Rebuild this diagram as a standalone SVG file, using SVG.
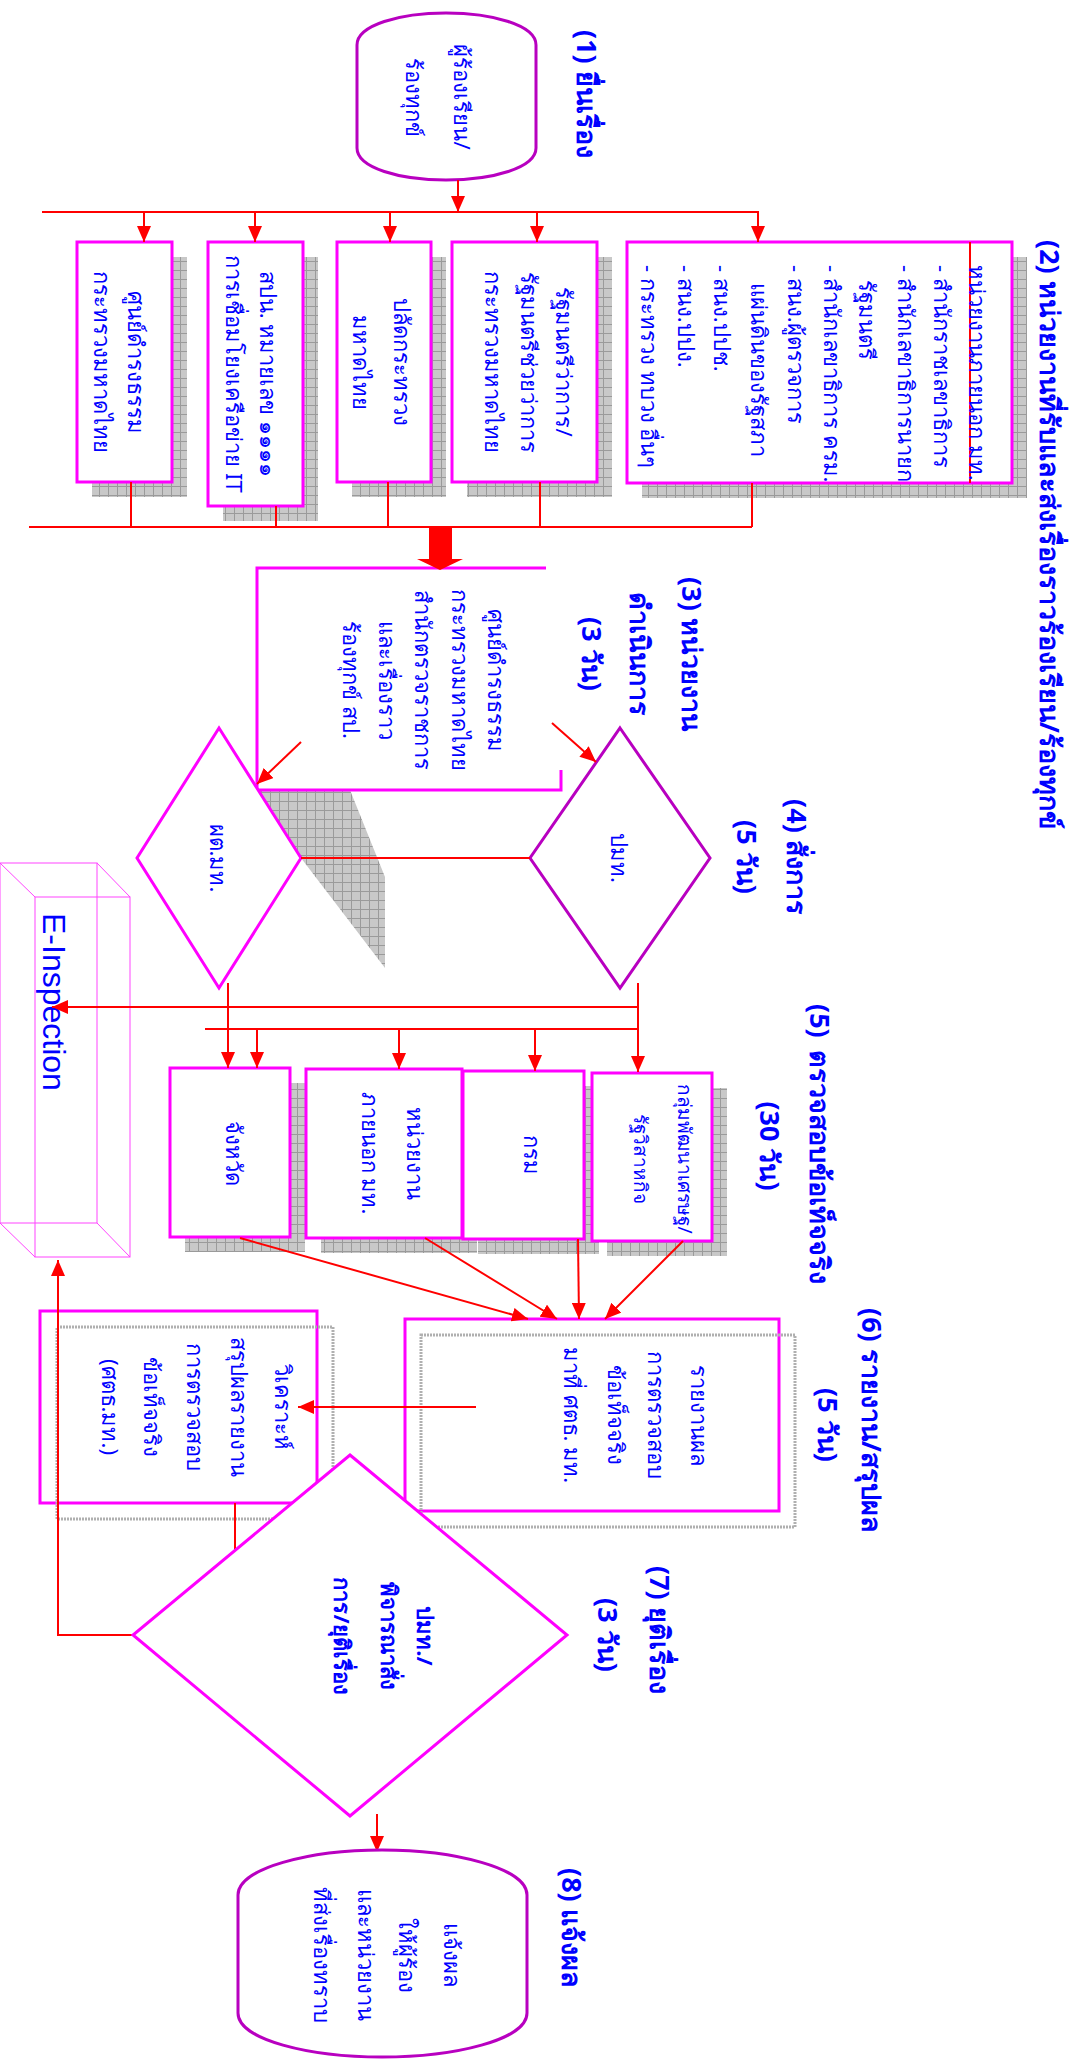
<svg xmlns="http://www.w3.org/2000/svg" width="1078" height="2060" viewBox="0 0 1078 2060">
<defs>
<pattern id="grid" width="9" height="9" patternUnits="userSpaceOnUse"><rect width="9" height="9" fill="#c8c8c8"/><path d="M0 0.5H9M0.5 0V9" stroke="#9a9a9a" stroke-width="1"/></pattern>
<marker id="ah" viewBox="0 0 16 14" refX="16" refY="7" markerWidth="16" markerHeight="14" markerUnits="userSpaceOnUse" orient="auto"><path d="M0 0L16 7L0 14Z" fill="#ff0000"/></marker>
<style>
.t{font-family:"Noto Sans","DejaVu Sans",sans-serif;fill:#0000ff;font-size:22px;dominant-baseline:central}
.m{text-anchor:middle}
.lb{font-size:27px;font-weight:bold}
.sm{font-size:19px}
.box{fill:#fff;stroke:#ff00ff;stroke-width:3}
.pbox{fill:none;stroke:#ff00ff;stroke-width:3}
.pur{fill:#fff;stroke:#b800c0;stroke-width:3}
.sh{fill:url(#grid)}
.fr{fill:none;stroke:#b0b0b0;stroke-width:3;stroke-dasharray:2 1}
.ln{stroke:#ff0000;stroke-width:2;fill:none}
.ar{stroke:#ff0000;stroke-width:2;fill:none;marker-end:url(#ah)}
.ei{fill:none;stroke:#ff44ff;stroke-width:1}
</style>
</defs>
<rect width="1078" height="2060" fill="#fff"/>

<g id="labels">
<g transform="rotate(90)">
<text class="t lb" x="30" y="-587">(1) ยื่นเรื่อง</text>
<text class="t lb" x="240" y="-1050">(2) หน่วยงานที่รับและส่งเรื่องราวร้องเรียน/ร้องทุกข์</text>
<text class="t lb m" x="654" y="-692">(3) หน่วยงาน</text>
<text class="t lb m" x="654" y="-640">ดำเนินการ</text>
<text class="t lb m" x="654" y="-592">(3 วัน)</text>
<text class="t lb m" x="857" y="-797">(4) สั่งการ</text>
<text class="t lb m" x="857" y="-747">(5 วัน)</text>
<text class="t lb" x="1004" y="-820">(5)</text>
<text class="t lb" x="1050" y="-820">ตรวจสอบข้อเท็จจริง</text>
<text class="t lb m" x="1146" y="-770">(30 วัน)</text>
<text class="t lb" x="1308" y="-872">(6) รายงาน/สรุปผล</text>
<text class="t lb m" x="1425" y="-828">(5 วัน)</text>
<text class="t lb" x="1566" y="-660">(7) ยุติเรื่อง</text>
<text class="t lb m" x="1635" y="-608">(3 วัน)</text>
<text class="t lb" x="1868" y="-572">(8)  แจ้งผล</text>
</g>
</g>

<g id="n1">
<path class="pur" d="M357 45C357 25 400 13 446 13C492 13 536 25 536 45L536 148C536 168 492 180 446 180C400 180 357 168 357 148Z"/>
<g transform="rotate(90)"><text class="t m" x="97" y="-463">ผู้ร้องเรียน/</text><text class="t m" x="97" y="-415">ร้องทุกข์</text></g>
</g>

<g id="n2a">
<rect class="sh" x="92" y="257" width="95" height="240"/>
<rect class="box" x="77" y="242" width="95" height="240"/>
<g transform="rotate(90)"><text class="t m" x="362" y="-137">ศูนย์ดำรงธรรม</text><text class="t m" x="362" y="-103">กระทรวงมหาดไทย</text></g>
</g>
<g id="n2b">
<rect class="sh" x="223" y="257" width="95" height="264"/>
<rect class="box" x="208" y="242" width="95" height="264"/>
<g transform="rotate(90)"><text class="t m" x="374" y="-269">สปน. หมายเลข ๑๑๑๑</text><text class="t m" x="374" y="-235">การเชื่อมโยงเครือข่าย IT</text></g>
</g>
<g id="n2c">
<rect class="sh" x="352" y="257" width="94" height="240"/>
<rect class="box" x="337" y="242" width="94" height="240"/>
<g transform="rotate(90)"><text class="t m" x="362" y="-403">ปลัดกระทรวง</text><text class="t m" x="362" y="-362">มหาดไทย</text></g>
</g>
<g id="n2d">
<rect class="sh" x="467" y="257" width="145" height="240"/>
<rect class="box" x="452" y="242" width="145" height="240"/>
<g transform="rotate(90)"><text class="t m" x="362" y="-565">รัฐมนตรีว่าการ/</text><text class="t m" x="362" y="-530">รัฐมนตรีช่วยว่าการ</text><text class="t m" x="362" y="-494">กระทรวงมหาดไทย</text></g>
</g>
<g id="n2e">
<rect class="sh" x="642" y="257" width="385" height="241"/>
<rect class="box" x="627" y="242" width="385" height="241"/>
<line x1="970" y1="242" x2="970" y2="483" stroke="#ff0000" stroke-width="2"/>
<g transform="rotate(90)">
<text class="t" x="265" y="-978">หน่วยงานภายนอก มท.</text>
<text class="t" x="265" y="-943">- สำนักราชเลขาธิการ</text>
<text class="t" x="265" y="-907">- สำนักเลขาธิการนายก</text>
<text class="t" x="280" y="-868">รัฐมนตรี</text>
<text class="t" x="265" y="-833">- สำนักเลขาธิการ ครม.</text>
<text class="t" x="265" y="-797">- สนง.ผู้ตรวจการ</text>
<text class="t" x="283" y="-760">แผ่นดินของรัฐสภา</text>
<text class="t" x="265" y="-723">- สนง.ปปช.</text>
<text class="t" x="265" y="-687">- สนง.ปปง.</text>
<text class="t" x="265" y="-650">- กระทรวง ทบวง  อื่นๆ</text>
</g>
</g>

<g id="n3">
<polygon class="sh" points="258,790 350,790 385,877 385,968 301,858"/>
<path class="pbox" d="M546 568H257V790H561V770"/>
<g transform="rotate(90)">
<text class="t m" x="680" y="-497">ศูนย์ดำรงธรรม</text>
<text class="t m" x="680" y="-461">กระทรวงมหาดไทย</text>
<text class="t m" x="680" y="-424">สำนักตรวจราชการ</text>
<text class="t m" x="680" y="-388">และเรื่องราว</text>
<text class="t m" x="680" y="-352">ร้องทุกข์ สป.</text>
</g>
</g>

<g id="n4a">
<polygon class="box" points="219,728 301,858 219,988 137,858"/>
<g transform="rotate(90)"><text class="t m" x="858" y="-219">ผต.มท.</text></g>
</g>
<g id="n4b">
<polygon class="pur" points="620,728 710,858 620,988 530,858"/>
<g transform="rotate(90)"><text class="t m" x="858" y="-620">ปมท.</text></g>
</g>

<g id="einsp">
<rect class="ei" x="0" y="863" width="97" height="360"/>
<rect class="ei" x="35" y="897" width="95" height="360"/>
<path class="ei" d="M0 863L35 897M97 863L130 897M0 1223L35 1257M97 1223L130 1257"/>
<g transform="rotate(90)"><text x="913" y="-54" style="font-family:'Liberation Sans',sans-serif;font-size:32px;fill:#0000ff;dominant-baseline:central">E-Inspection</text></g>
</g>

<g id="n5a">
<rect class="sh" x="185" y="1083" width="120" height="169"/>
<rect class="box" x="170" y="1068" width="120" height="169"/>
<g transform="rotate(90)"><text class="t m" x="1153" y="-235">จังหวัด</text></g>
</g>
<g id="n5b">
<rect class="sh" x="321" y="1084" width="156" height="169"/>
<rect class="box" x="306" y="1069" width="156" height="169"/>
<g transform="rotate(90)"><text class="t m" x="1153" y="-416">หน่วยงาน</text><text class="t m" x="1153" y="-371">ภายนอก มท.</text></g>
</g>
<g id="n5c">
<rect class="sh" x="478" y="1086" width="121" height="168"/>
<rect class="box" x="463" y="1071" width="121" height="168"/>
<g transform="rotate(90)"><text class="t m" x="1155" y="-533">กรม</text></g>
</g>
<g id="n5d">
<rect class="sh" x="607" y="1088" width="120" height="168"/>
<rect class="box" x="592" y="1073" width="120" height="168"/>
<g transform="rotate(90)"><text class="t m sm" x="1159" y="-685">กลุ่มพัฒนาเศรษฐ/</text><text class="t m sm" x="1159" y="-641">รัฐวิสาหกิจ</text></g>
</g>

<g id="n6">
<rect class="pbox" x="405" y="1319" width="374" height="192"/>
<rect class="fr" x="421" y="1335" width="374" height="192"/>
<g transform="rotate(90)">
<text class="t m" x="1415" y="-700">รายงานผล</text>
<text class="t m" x="1415" y="-657">การตรวจสอบ</text>
<text class="t m" x="1415" y="-617">ข้อเท็จจริง</text>
<text class="t m" x="1415" y="-573">มาที่ ศตธ. มท.</text>
</g>
</g>
<g id="n6b">
<rect class="pbox" x="40" y="1311" width="277" height="192"/>
<rect class="fr" x="57" y="1327" width="276" height="192"/>
<g transform="rotate(90)">
<text class="t m" x="1407" y="-284">วิเคราะห์</text>
<text class="t m" x="1407" y="-240">สรุปผลรายงาน</text>
<text class="t m" x="1407" y="-196">การตรวจสอบ</text>
<text class="t m" x="1407" y="-153">ข้อเท็จจริง</text>
<text class="t m" x="1407" y="-111">(ศตธ.มท.)</text>
</g>
</g>

<g id="connectors">
<line class="ar" x1="458" y1="180" x2="458" y2="212"/>
<line class="ln" x1="42" y1="212" x2="759" y2="212"/>
<line class="ar" x1="144" y1="212" x2="144" y2="242"/>
<line class="ar" x1="255" y1="212" x2="255" y2="242"/>
<line class="ar" x1="390" y1="212" x2="390" y2="242"/>
<line class="ar" x1="537" y1="212" x2="537" y2="242"/>
<line class="ar" x1="758" y1="212" x2="758" y2="242"/>
<path class="ln" d="M131 482V527M276 506V527M388 482V527M540 482V527M752 483V527M29 527H752"/>
<polygon points="429,527 452,527 452,559 463,559 440,570 417,559 429,559" fill="#ff0000"/>
<line class="ar" x1="301" y1="742" x2="257" y2="784"/>
<line class="ar" x1="552" y1="723" x2="596" y2="762"/>
<line class="ln" x1="301" y1="858" x2="530" y2="858"/>
<line class="ar" x1="228" y1="983" x2="228" y2="1068"/>
<line class="ar" x1="638" y1="983" x2="638" y2="1072"/>
<line class="ar" x1="638" y1="1007" x2="52" y2="1007"/>
<line class="ln" x1="205" y1="1029" x2="638" y2="1029"/>
<line class="ar" x1="257" y1="1029" x2="257" y2="1068"/>
<line class="ar" x1="399" y1="1029" x2="399" y2="1069"/>
<line class="ar" x1="535" y1="1029" x2="535" y2="1071"/>
<line class="ar" x1="240" y1="1238" x2="528" y2="1319"/>
<line class="ar" x1="425" y1="1238" x2="557" y2="1319"/>
<line class="ar" x1="578" y1="1239" x2="579" y2="1319"/>
<line class="ar" x1="683" y1="1241" x2="605" y2="1319"/>
<line class="ar" x1="476" y1="1407" x2="298" y2="1407"/>
<line class="ln" x1="235" y1="1503" x2="235" y2="1552"/>
<path class="ar" d="M135 1635H58V1260"/>
<line class="ar" x1="377" y1="1814" x2="377" y2="1852"/>
</g>

<g id="n7">
<polygon class="box" points="350,1455 567,1635 350,1816 133,1635"/>
<g transform="rotate(90)">
<text class="t m" x="1636" y="-426" style="font-weight:bold">ปมท./</text>
<text class="t m" x="1636" y="-390" style="font-weight:bold">พิจารณาสั่ง</text>
<text class="t m" x="1636" y="-343" style="font-weight:bold">การ/ยุติเรื่อง</text>
</g>
</g>

<g id="n8">
<path class="pur" d="M238 1895C238 1868 310 1850 382 1850C454 1850 527 1868 527 1895L527 2013C527 2040 454 2057 382 2057C310 2057 238 2040 238 2013Z"/>
<g transform="rotate(90)">
<text class="t m" x="1955" y="-453">แจ้งผล</text>
<text class="t m" x="1955" y="-408">ให้ผู้ร้อง</text>
<text class="t m" x="1955" y="-367">และหน่วยงาน</text>
<text class="t m" x="1955" y="-323">ที่ส่งเรื่องทราบ</text>
</g>
</g>
</svg>
